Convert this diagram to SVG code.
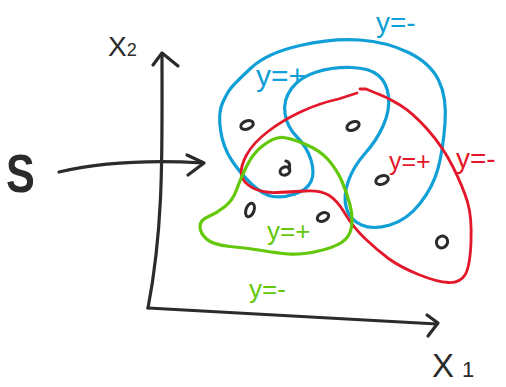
<svg xmlns="http://www.w3.org/2000/svg" width="506" height="387" viewBox="0 0 506 387">
<style>
.ink{fill:none;stroke:#2b2b2b;stroke-width:3.2;stroke-linecap:round;stroke-linejoin:round}
.pt{fill:none;stroke:#2b2b2b;stroke-width:3}
.blue{fill:none;stroke:#109fd6;stroke-width:3.2;stroke-linecap:round;stroke-linejoin:round}
.red{fill:none;stroke:#e3182a;stroke-width:2.8;stroke-linecap:round;stroke-linejoin:round}
.green{fill:none;stroke:#63c80a;stroke-width:3.2;stroke-linecap:round;stroke-linejoin:round}
text{font-family:"Liberation Sans",Arial,sans-serif}
.tb{fill:#109fd6}.tr{fill:#e3182a}.tg{fill:#63c80a}.tk{fill:#2b2b2b}
</style>
<rect width="506" height="387" fill="#ffffff"/>
<g id="connectors">
<path class="ink" d="M162,55 C162,150 164,225 148,308"/>
<path class="ink" d="M153,65 L162,53 L178,66"/>
<path class="ink" d="M148,308 L437,324"/>
<path class="ink" d="M427,315 L438,323 L428,336"/>
<path class="ink" d="M59,172 Q120,158 203,163"/>
<path class="ink" d="M187,155 L204,163 L188,175"/>
</g>
<g id="blue-region">
<path class="blue" d="M251,68 Q267,53 300,45.5 Q333,38 360,40 Q387,42 408.5,52.5 Q430,63 438.5,80 Q447,97 445,123.5 Q443,150 438,168.5 Q433,187 420,203.5 Q407,220 390,225 Q373,230 361.5,225 Q350,220 346.5,208.5 Q343,197 348,182 Q353,167 365,153.5 Q377,140 383.5,125 Q390,110 388.5,96.5 Q387,83 378.5,75.5 Q370,68 351.5,67.5 Q333,67 316.5,72 Q300,77 291.5,88.5 Q283,100 285,113.5 Q287,127 297,137 Q307,147 311,160 Q315,173 311,181.5 Q307,190 295,194 Q283,198 273,196.5 Q263,195 251.5,184 Q240,173 231.5,160 Q223,147 220.5,130 Q218,113 222.5,103 Q227,93 231,88 Q235,83 251,68 Z"/>
<text class="tb" x="376" y="32" font-size="28">y=-</text>
<text class="tb" x="256" y="86" font-size="30">y=+</text>
</g>
<g id="red-region">
<path class="red" d="M357,93 L338.5,99 Q320,103 301.5,111.5 Q283,120 268,131.5 Q253,143 246.5,155 Q240,167 241.5,175 Q243,183 253,188 Q263,193 276.5,192.5 Q290,192 305,191 Q320,190 328.5,195 Q337,200 345,213.5 Q353,227 365,238.5 Q377,250 388.5,258.5 Q400,267 418.5,274.5 Q437,282 448.5,282.5 Q460,283 465,275 Q470,267 471,242 Q472,217 467.5,202 Q463,187 453,167 Q443,147 428,130 Q413,113 400,105 Q387,97 374.5,92.5 L366,89 L360,89"/>
<text class="tr" x="389" y="170" font-size="25">y=+</text>
<text class="tr" x="456" y="168" font-size="28">y=-</text>
</g>
<g id="green-region">
<path class="green" d="M303.5,143.5 Q320,150 328.5,160 Q337,170 342,181.5 Q347,193 350,205 Q353,217 351.5,227 Q350,237 341.5,242.5 Q333,248 316.5,251.5 Q300,255 288.5,254 Q277,253 262,250.5 Q247,248 230,246.5 Q213,245 206.5,239 Q200,233 200,226.5 Q200,220 208.5,216.5 Q217,213 225,206.5 Q233,200 236.5,190 Q240,180 246.5,166.5 Q253,153 263,145.5 Q273,138 280,137.5 Q287,137 303.5,143.5 Z"/>
<text class="tg" x="267" y="240" font-size="26">y=+</text>
<text class="tg" x="249" y="298" font-size="26">y=-</text>
</g>
<g id="points">
<ellipse class="pt" cx="247" cy="125" rx="6.5" ry="4" transform="rotate(-20 247 125)"/>
<ellipse class="pt" cx="353" cy="126" rx="6.5" ry="4" transform="rotate(-25 353 126)"/>
<ellipse class="pt" cx="285" cy="171" rx="5" ry="4" transform="rotate(-20 285 171)"/>
<path class="ink" d="M289,169 Q291,162 286,161" stroke-width="2.6"/>
<ellipse class="pt" cx="382" cy="180" rx="6.5" ry="4.2" transform="rotate(-20 382 180)"/>
<ellipse class="pt" cx="250" cy="210" rx="4" ry="7" transform="rotate(20 250 210)"/>
<ellipse class="pt" cx="323" cy="217" rx="6" ry="4" transform="rotate(-25 323 217)"/>
<ellipse class="pt" cx="442" cy="242" rx="5.5" ry="6" transform="rotate(30 442 242)"/>
</g>
<g id="labels">
<text class="tk" x="108" y="56" font-size="28">X<tspan font-size="18">2</tspan></text>
<text class="tk" x="432" y="377" font-size="33">X<tspan font-size="22" dx="8">1</tspan></text>
<text class="tk" x="6" y="192" font-size="54" font-weight="bold" transform="translate(6 0) scale(0.8 1) translate(-6 0)">S</text>
</g>
</svg>
